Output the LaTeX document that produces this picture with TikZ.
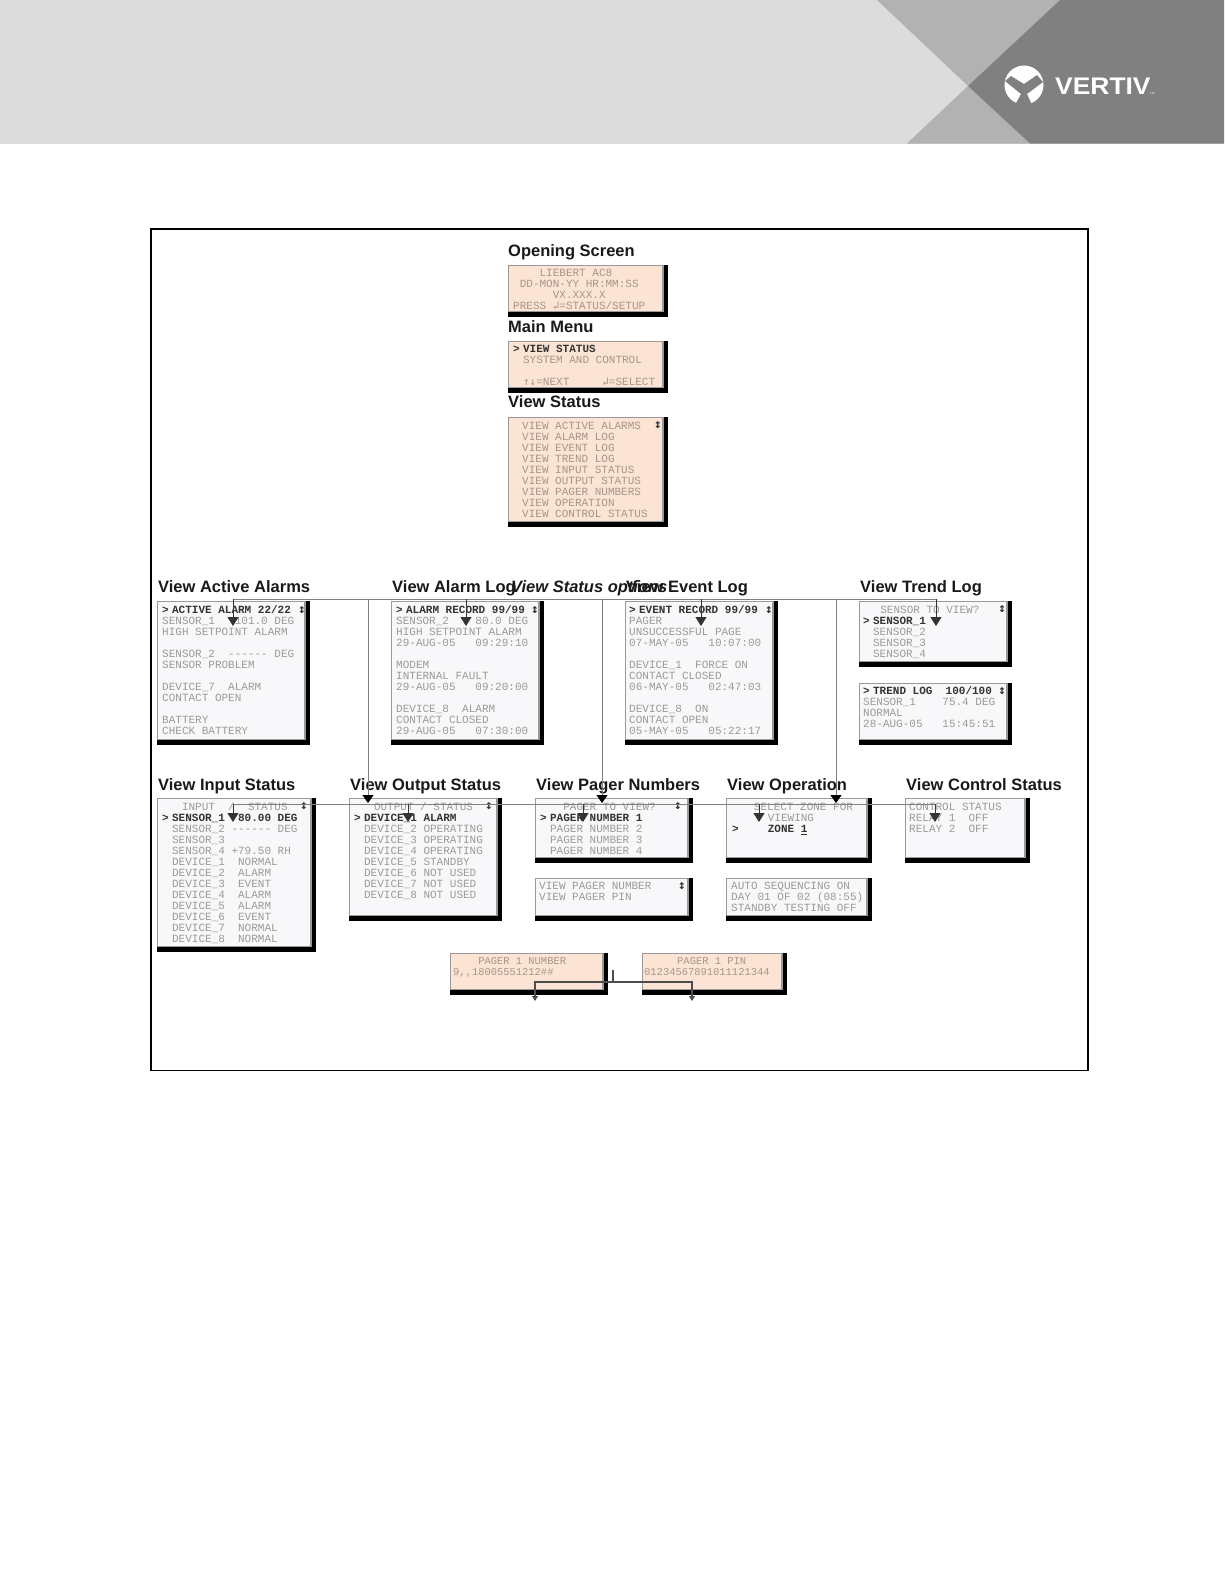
\documentclass[tikz,border=0pt]{standalone}
\usepackage{fontspec}
\setmainfont{Liberation Sans}
\newfontfamily\screenfamily{Liberation Mono}
\newfontfamily\arrowfamily{DejaVu Sans Mono}
\usetikzlibrary{arrows.meta}
\definecolor{bannerlight}{HTML}{DCDCDC}
\definecolor{bannermid}{HTML}{B2B2B2}
\definecolor{bannerdark}{HTML}{808080}
\definecolor{screenpeach}{HTML}{FCE4D4}
\definecolor{screenwhite}{HTML}{F8F8FA}
\definecolor{screenedge}{HTML}{9A9A9A}
\definecolor{screentext}{HTML}{9A9A9A}
\definecolor{peachtext}{HTML}{A8948A}
\newcommand{\pad}[1]{\hspace*{#1\dimexpr6.6pt\relax}}
\newcommand{\selmark}{\textbf{>}\hspace*{3.3pt}}
\newcommand{\entersym}{{\arrowfamily\symbol{"21B2}}}
\newcommand{\updownsym}{{\arrowfamily\symbol{"2191}\symbol{"2193}}}
\newcommand{\boldline}[1]{\textcolor{black!80}{\textbf{#1}}}

\begin{document}
\begin{tikzpicture}[x=1pt,y=-1pt]
  \tikzset{screenbox/.style={anchor=north west,inner sep=0pt,outer sep=0pt,fill=black,
    path picture={\fill[#1,draw=screenedge,line width=1.6pt] (path picture bounding box.north west) rectangle ([xshift=-5pt,yshift=5.5pt]path picture bounding box.south east);}}}
  \tikzset{whitebox/.style={screenbox=screenwhite}}
  \tikzset{peachbox/.style={screenbox=screenpeach}}
  \tikzset{screenlines/.style={anchor=north west,align=left,inner sep=0pt,text=screentext,
    font=\screenfamily\fontsize{11}{11}\selectfont,execute at begin node=\strut}}
  \tikzset{peachlines/.style={screenlines,text=peachtext}}
  \tikzset{peachsmall/.style={peachlines,font=\screenfamily\fontsize{10.45}{11}\selectfont}}
  \tikzset{screenhead/.style={anchor=base west,inner sep=0pt,text=black!90,font=\bfseries\fontsize{16.5}{18}\selectfont}}
  \tikzset{scrollmark/.style={inner sep=0pt,text=black!80,font=\arrowfamily\bfseries\fontsize{12.5}{12.5}\selectfont}}
  \tikzset{trunkline/.style={draw=bannerdark,line width=1pt}}
  \tikzset{dropline/.style={draw=bannerdark,line width=1pt,-{Triangle[color=black,length=8pt,width=11pt]}}}
  \tikzset{branchline/.style={draw=black!80,line width=1pt,-{Triangle[length=9pt,width=11pt]}}}
  \tikzset{pinline/.style={draw=black!70,line width=1.2pt}}
  \tikzset{pintip/.style={draw=black!70,line width=1.2pt,-{Triangle[length=5pt,width=6pt]}}}

  \useasboundingbox (0,0) rectangle (1224,1584);

  % banner
  \fill[bannerlight] (0,0) rectangle (1224,143.5);
  \fill[bannermid] (877,0) -- (1060,0) -- (968,86) -- cycle;
  \fill[bannermid] (968,86) -- (1030,143.5) -- (907,143.5) -- cycle;
  \fill[bannerdark] (1060,0) -- (1224,0) -- (1224,143.5) -- (1030,143.5) -- (968,86) -- cycle;
  \fill[white] (1024,85) circle (19.5);
  \fill[bannerdark] (1005,81) -- (1011,76) -- (1024,84) -- (1037,75) -- (1043,82) -- (1027,94) -- (1032,105) -- (1015,105) -- (1021,94) -- cycle;
  \node[anchor=base west,inner sep=0pt,text=white,xscale=1.1,font=\bfseries\fontsize{24}{24}\selectfont] (brandname) at (1055,94.5) {VERTIV};
  \node[anchor=base west,inner sep=0pt,text=white,font=\fontsize{3}{3}\selectfont] (brandmark) at (1150,94.5) {TM};

  % frame
  \draw[line width=1.8pt] (151,229) rectangle (1088,1070.5);

  % boxes
  \node[peachbox,minimum width=160pt,minimum height=52pt] (openingbox) at (508,265) {};
  \node[peachbox,minimum width=160pt,minimum height=52pt] (mainbox) at (508,341) {};
  \node[peachbox,minimum width=160pt,minimum height=110pt] (statusbox) at (508,417) {};
  \node[whitebox,minimum width=153pt,minimum height=144pt] (activebox) at (157,601) {};
  \node[whitebox,minimum width=153pt,minimum height=144pt] (alarmbox) at (391,601) {};
  \node[whitebox,minimum width=153pt,minimum height=144pt] (eventbox) at (625,601) {};
  \node[whitebox,minimum width=153pt,minimum height=66pt] (trendbox) at (859,601) {};
  \node[whitebox,minimum width=153pt,minimum height=62pt] (trendlogbox) at (859,683) {};
  \node[whitebox,minimum width=159pt,minimum height=154pt] (inputbox) at (157,798) {};
  \node[whitebox,minimum width=153pt,minimum height=123pt] (outputbox) at (349,798) {};
  \node[whitebox,minimum width=158pt,minimum height=65pt] (pagerbox) at (535,798) {};
  \node[whitebox,minimum width=158pt,minimum height=43pt] (pagerviewbox) at (535,878) {};
  \node[whitebox,minimum width=146pt,minimum height=65pt] (zonebox) at (726,798) {};
  \node[whitebox,minimum width=146pt,minimum height=43pt] (autobox) at (726,878) {};
  \node[whitebox,minimum width=125pt,minimum height=65pt] (controlbox) at (905,798) {};
  \node[peachbox,minimum width=158pt,minimum height=42pt] (numberbox) at (450,953) {};
  \node[peachbox,minimum width=145pt,minimum height=42pt] (pinbox) at (642,953) {};

  % headings
  \node[screenhead] (openinghead) at (508,256) {Opening Screen};
  \node[screenhead] (mainhead) at (508,332) {Main Menu};
  \node[screenhead] (statushead) at (508,407) {View Status};
  \node[screenhead] (activehead) at (158,592) {View Active Alarms};
  \node[screenhead] (alarmhead) at (392,592) {View Alarm Log};
  \node[screenhead] (eventhead) at (626,592) {View Event Log};
  \node[screenhead] (trendhead) at (860,592) {View Trend Log};
  \node[screenhead] (inputhead) at (158,790) {View Input Status};
  \node[screenhead] (outputhead) at (350,790) {View Output Status};
  \node[screenhead] (pagerhead) at (536,790) {View Pager Numbers};
  \node[screenhead] (zonehead) at (727,790) {View Operation};
  \node[screenhead] (controlhead) at (906,790) {View Control Status};
  \node[screenhead,font=\bfseries\itshape\fontsize{16.5}{18}\selectfont] (optionshead) at (511,592) {View Status options};

  % screen texts
  \node[peachlines] (openingtext) at (513,269) {\pad{4}LIEBERT AC8\\\pad{1}DD-MON-YY HR:MM:SS\\\pad{6}VX.XXX.X\\PRESS \entersym=STATUS/SETUP};
  \node[peachlines] (maintext) at (513,345) {\boldline{\selmark VIEW STATUS}\\\pad{1.5}SYSTEM AND CONTROL\\\strut\\\pad{1.5}\updownsym=NEXT~~~~~\entersym=SELECT};
  \node[peachlines] (statustext) at (522,421.5) {VIEW ACTIVE ALARMS\\VIEW ALARM LOG\\VIEW EVENT LOG\\VIEW TREND LOG\\VIEW INPUT STATUS\\VIEW OUTPUT STATUS\\VIEW PAGER NUMBERS\\VIEW OPERATION\\VIEW CONTROL STATUS};
  \node[screenlines] (activetext) at (162,605.5) {\boldline{\selmark ACTIVE ALARM 22/22}\\SENSOR\_1~~~101.0 DEG\\HIGH SETPOINT ALARM\\\strut\\SENSOR\_2~~------ DEG\\SENSOR PROBLEM\\\strut\\DEVICE\_7~~ALARM\\CONTACT OPEN\\\strut\\BATTERY\\CHECK BATTERY};
  \node[screenlines] (alarmtext) at (396,605.5) {\boldline{\selmark ALARM RECORD 99/99}\\SENSOR\_2~~~~80.0 DEG\\HIGH SETPOINT ALARM\\29-AUG-05~~~09:29:10\\\strut\\MODEM\\INTERNAL FAULT\\29-AUG-05~~~09:20:00\\\strut\\DEVICE\_8~~ALARM\\CONTACT CLOSED\\29-AUG-05~~~07:30:00};
  \node[screenlines] (eventtext) at (629,605.5) {\boldline{\selmark EVENT RECORD 99/99}\\PAGER\\UNSUCCESSFUL PAGE\\07-MAY-05~~~10:07:00\\\strut\\DEVICE\_1~~FORCE ON\\CONTACT CLOSED\\06-MAY-05~~~02:47:03\\\strut\\DEVICE\_8~~ON\\CONTACT OPEN\\05-MAY-05~~~05:22:17};
  \node[screenlines] (trendtext) at (863,606) {\pad{2.6}SENSOR TO VIEW?\\\boldline{\selmark SENSOR\_1}\\\pad{1.5}SENSOR\_2\\\pad{1.5}SENSOR\_3\\\pad{1.5}SENSOR\_4};
  \node[screenlines] (trendlogtext) at (863,686) {\boldline{\selmark TREND LOG~~100/100}\\SENSOR\_1~~~~75.4 DEG\\NORMAL\\28-AUG-05~~~15:45:51};
  \node[screenlines] (inputtext) at (162,802.5) {\pad{3}INPUT~~/~~STATUS\\\boldline{\selmark SENSOR\_1~~80.00 DEG}\\\pad{1.5}SENSOR\_2 ------ DEG\\\pad{1.5}SENSOR\_3\\\pad{1.5}SENSOR\_4 +79.50 RH\\\pad{1.5}DEVICE\_1~~NORMAL\\\pad{1.5}DEVICE\_2~~ALARM\\\pad{1.5}DEVICE\_3~~EVENT\\\pad{1.5}DEVICE\_4~~ALARM\\\pad{1.5}DEVICE\_5~~ALARM\\\pad{1.5}DEVICE\_6~~EVENT\\\pad{1.5}DEVICE\_7~~NORMAL\\\pad{1.5}DEVICE\_8~~NORMAL};
  \node[screenlines] (outputtext) at (354,802.5) {\pad{3}OUTPUT / STATUS\\\boldline{\selmark DEVICE\_1 ALARM}\\\pad{1.5}DEVICE\_2 OPERATING\\\pad{1.5}DEVICE\_3 OPERATING\\\pad{1.5}DEVICE\_4 OPERATING\\\pad{1.5}DEVICE\_5 STANDBY\\\pad{1.5}DEVICE\_6 NOT USED\\\pad{1.5}DEVICE\_7 NOT USED\\\pad{1.5}DEVICE\_8 NOT USED};
  \node[screenlines] (pagertext) at (540,803) {\pad{3.5}PAGER TO VIEW?\\\boldline{\selmark PAGER NUMBER 1}\\\pad{1.5}PAGER NUMBER 2\\\pad{1.5}PAGER NUMBER 3\\\pad{1.5}PAGER NUMBER 4};
  \node[screenlines] (pagerviewtext) at (539,882) {VIEW PAGER NUMBER\\VIEW PAGER PIN};
  \node[screenlines] (zonetext) at (732,803) {\pad{3.3}SELECT ZONE FOR\\\pad{5.4}VIEWING\\\boldline{>\pad{4.4}ZONE \underline{1}}};
  \node[screenlines] (autotext) at (731,882) {AUTO SEQUENCING ON\\DAY 01 OF 02 (08:55)\\STANDBY TESTING OFF};
  \node[screenlines] (controltext) at (909,803) {CONTROL STATUS\\RELAY 1~~OFF\\RELAY 2~~OFF};
  \node[peachsmall] (numbertext) at (453,957) {\pad{3.8}PAGER 1 NUMBER\\9,,18005551212\#\#};
  \node[peachsmall] (pintext) at (644,957) {\pad{5}PAGER 1 PIN\\01234567891011121344};

  % scroll marks
  \node[scrollmark] (statusscroll) at (658,425) {\symbol{"2195}};
  \node[scrollmark] (activescroll) at (302,610) {\symbol{"2195}};
  \node[scrollmark] (alarmscroll) at (535,610) {\symbol{"2195}};
  \node[scrollmark] (eventscroll) at (769,610) {\symbol{"2195}};
  \node[scrollmark] (trendscroll) at (1002,609) {\symbol{"2195}};
  \node[scrollmark] (trendlogscroll) at (1002,691) {\symbol{"2195}};
  \node[scrollmark] (inputscroll) at (304,806) {\symbol{"2195}};
  \node[scrollmark] (outputscroll) at (489,806) {\symbol{"2195}};
  \node[scrollmark] (pagerscroll) at (678,806) {\symbol{"2195}};
  \node[scrollmark] (pagerviewscroll) at (682,886) {\symbol{"2195}};

  % upper row
  \coordinate (activejoin) at (233,599);
  \coordinate (activetip) at (233,626);
  \coordinate (outputjoin) at (368,599);
  \coordinate (outputtip) at (368,803);
  \coordinate (alarmjoin) at (466,599);
  \coordinate (alarmtip) at (466,626);
  \coordinate (pagerjoin) at (602,599);
  \coordinate (pagertip) at (602,803);
  \coordinate (eventjoin) at (701,599);
  \coordinate (eventtip) at (701,626);
  \coordinate (zonejoin) at (836,599);
  \coordinate (zonetip) at (836,803);
  \coordinate (trendjoin) at (936,599);
  \coordinate (trendtip) at (936,626);
  \draw[trunkline] (activejoin) -- (trendjoin);
  \draw[branchline] (activejoin) -- (activetip);
  \draw[branchline] (alarmjoin) -- (alarmtip);
  \draw[branchline] (eventjoin) -- (eventtip);
  \draw[branchline] (trendjoin) -- (trendtip);
  \draw[dropline] (outputjoin) -- (outputtip);
  \draw[dropline] (pagerjoin) -- (pagertip);
  \draw[dropline] (zonejoin) -- (zonetip);

  % lower row
  \coordinate (inputjoin) at (233,804);
  \coordinate (inputtip) at (233,822);
  \coordinate (devicejoin) at (408,804);
  \coordinate (devicetip) at (408,822);
  \coordinate (numberjoin) at (583,804);
  \coordinate (numbertip) at (583,822);
  \coordinate (selectjoin) at (759,804);
  \coordinate (selecttip) at (759,822);
  \coordinate (relayjoin) at (935,804);
  \coordinate (relaytip) at (935,822);
  \draw[trunkline] (inputjoin) -- (relayjoin);
  \draw[branchline] (inputjoin) -- (inputtip);
  \draw[branchline] (devicejoin) -- (devicetip);
  \draw[branchline] (numberjoin) -- (numbertip);
  \draw[branchline] (selectjoin) -- (selecttip);
  \draw[branchline] (relayjoin) -- (relaytip);

  % pager detail
  \coordinate (pinjoin) at (613,970);
  \coordinate (pinfork) at (613,982);
  \coordinate (numberdrop) at (535,1001);
  \coordinate (pindrop) at (692,1001);
  \draw[pinline] (pinjoin) -- (pinfork);
  \draw[pintip] (pinfork) -| (numberdrop);
  \draw[pintip] (pinfork) -| (pindrop);
\end{tikzpicture}
\end{document}
